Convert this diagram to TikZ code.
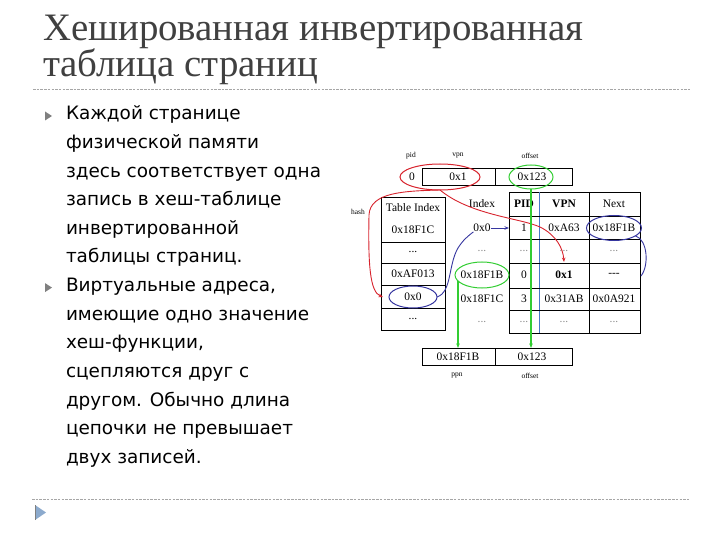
\documentclass[tikz,border=0pt]{standalone}
\usepackage{fontspec}
\setmainfont{Liberation Serif}
\newfontfamily\bodyfont{DejaVu Sans}
\newfontfamily\titlefont{Liberation Serif}
\usetikzlibrary{arrows.meta,shapes.geometric}
\definecolor{redc}{RGB}{215,35,45}
\definecolor{greenc}{RGB}{50,205,50}
\definecolor{bluec}{RGB}{55,55,160}
\definecolor{titlegray}{RGB}{64,64,64}
\definecolor{divblue}{RGB}{70,120,200}
\definecolor{bulgray}{RGB}{128,128,128}
\definecolor{bulblue}{RGB}{140,170,205}
\begin{document}
\begin{tikzpicture}[x=1bp,y=-1bp,
  every node/.style={inner sep=0pt, outer sep=0pt},
  tt/.style={font=\fontsize{11.5}{12}\selectfont},
  tgray/.style={tt, text=black!45},
  small/.style={font=\fontsize{7.5}{8}\selectfont},
  body/.style={anchor=base west, font=\bodyfont\fontsize{18.5}{20}\selectfont},
  ttl/.style={anchor=base west, font=\titlefont\fontsize{39}{41}\selectfont, text=titlegray},
  grid/.style={line width=0.8bp, draw=black},
  sep/.style={draw=gray!70, line width=0.8bp, dash pattern=on 2.5bp off 1.2bp},
  ell/.style={ellipse, draw, line width=1bp, inner sep=0pt},
  arr/.style={-{Stealth[length=4.5bp,width=3.5bp]}, line width=0.9bp},
]
\useasboundingbox (0,0) rectangle (720,540);

% title
\node[ttl] (t1) at (43,41) {Хешированная инвертированная};
\node[ttl] (t2) at (43,77) {таблица страниц};
\draw[sep] (33,89) -- (690,89);
\draw[sep] (32,499) -- (690,499);
\fill[bulblue] (35,505) -- (35,520) -- (46,512.5) -- cycle;
\draw[gray, line width=0.8bp] (35,505) -- (35,520);

% bullets
\fill[bulgray] (45,111.5) -- (45,120.5) -- (52,116) -- cycle;
\fill[bulgray] (45,283.1) -- (45,292.1) -- (52,287.6) -- cycle;

\node[body] (l1) at (66,120) {Каждой странице};
\node[body] (l2) at (66,148.6) {физической памяти};
\node[body] (l3) at (66,177.2) {здесь соответствует одна};
\node[body] (l4) at (66,205.8) {запись в хеш-таблице};
\node[body] (l5) at (66,234.4) {инвертированной};
\node[body] (l6) at (66,263) {таблицы страниц.};
\node[body] (l7) at (66,291.6) {Виртуальные адреса,};
\node[body] (l8) at (66,320.2) {имеющие одно значение};
\node[body] (l9) at (66,348.8) {хеш-функции,};
\node[body] (l10) at (66,377.4) {сцепляются друг с};
\node[body] (l11) at (66,406) {другом. Обычно длина};
\node[body] (l12) at (66,434.6) {цепочки не превышает};
\node[body] (l13) at (66,463.2) {двух записей.};

% top register
\draw[grid] (422,168) rectangle (572,185);
\draw[grid] (495,168) -- (495,185);
\node[tt] (pid0) at (412,177) {0};
\node[tt] (vpn1) at (458,177) {0x1};
\node[tt] (off1) at (532,177) {0x123};
\node[small] (lpid) at (411,156) {pid};
\node[small] (lvpn) at (458,156) {vpn};
\node[small] (loff1) at (530,156) {offset};

% left table
\draw[grid] (381,197) rectangle (445,330);
\foreach \yy in {242,263,285,308} \draw[grid] (381,\yy) -- (445,\yy);
\node[tt] (ti) at (413,208) {Table Index};
\node[tt] (ta) at (413,230) {0x18F1C};
\node[tt] (tb) at (413,252) {...};
\node[tt] (tc) at (413,274) {0xAF013};
\node[tt] (td) at (413,297) {0x0};
\node[tt] (te) at (413,319) {...};
\node[small] (lhash) at (358,212) {hash};

% index column
\node[tt] (ih) at (482,204) {Index};
\node[tt] (idx0) at (482,228) {0x0};
\node[tgray] (idxa) at (482,251) {...};
\node[tt] (idxb) at (482,275) {0x18F1B};
\node[tt] (idxc) at (482,299) {0x18F1C};
\node[tgray] (idxd) at (482,322) {...};

% right table
\draw[grid] (509,192) rectangle (640,333);
\draw[grid] (589,192) -- (589,333);
\draw[line width=0.8bp, divblue] (539,192) -- (539,333);
\foreach \yy in {216,239,263,288,310} \draw[grid] (509,\yy) -- (640,\yy);
\node[tt] (hpid) at (524,204) {\textbf{PID}};
\node[tt] (hvpn) at (564,204) {\textbf{VPN}};
\node[tt] (hnext) at (614,204) {Next};
\node[tt] (p1) at (524,228) {1};
\node[tt] (v1) at (564,228) {0xA63};
\node[tt] (n1) at (614,228) {0x18F1B};
\node[tgray] (p2) at (524,251) {...};
\node[tgray] (v2) at (564,251) {...};
\node[tgray] (n2) at (614,251) {...};
\node[tt] (p3) at (524,275) {0};
\node[tt] (v3) at (564,275) {\textbf{0x1}};
\node[tt] (n3) at (614,275) {-{}-{}-};
\node[tt] (p4) at (524,299) {3};
\node[tt] (v4) at (564,299) {0x31AB};
\node[tt] (n4) at (614,299) {0x0A921};
\node[tgray] (p5) at (524,322) {...};
\node[tgray] (v5) at (564,322) {...};
\node[tgray] (n5) at (614,322) {...};

% bottom register
\draw[grid] (422,348) rectangle (572,365);
\draw[grid] (495,348) -- (495,365);
\node[tt] (ppn) at (458,357) {0x18F1B};
\node[tt] (off2) at (532,357) {0x123};
\node[small] (lppn) at (457,376) {ppn};
\node[small] (loff2) at (530,376) {offset};

% ellipses
\node[ell, draw=redc, minimum width=80bp, minimum height=26bp] (rell) at (440,177) {};
\node[ell, draw=greenc, minimum width=44bp, minimum height=24bp] (gell) at (531,177) {};
\node[ell, draw=bluec, minimum width=48bp, minimum height=22bp] (bell1) at (413,297) {};
\node[ell, draw=greenc, minimum width=54bp, minimum height=26bp] (gell2) at (482,275) {};
\node[ell, draw=bluec, minimum width=55bp, minimum height=25bp] (bell2) at (614,228) {};

% coordinates
\coordinate (bbtop) at (0,348);
\coordinate (rtleft) at (509,0);
\coordinate (hashend) at (383,297);
\coordinate (vpnend) at (564,262);
\coordinate (g2s) at (458,281);
\coordinate (b2end) at (641,276);

% connectors
\draw[redc, arr] (rell.south) .. controls (405,191) and (370,192) .. (369,215)
   .. controls (368,265) and (370,292) .. (hashend);
\draw[redc, arr] (rell.south) .. controls (470,215) and (520,218) .. (540,227)
   .. controls (556,235) and (563,248) .. (vpnend);
\draw[greenc, arr, line width=1.3bp] (gell.south) -- (gell.south |- bbtop);
\draw[greenc, arr, line width=1.3bp] (g2s) -- (g2s |- bbtop);
\draw[bluec, line width=0.9bp] (bell1.east) .. controls (452,292) and (448,265) .. (458,248)
   .. controls (463,240) and (468,236) .. (idx0.south west);
\draw[bluec, arr] (idx0.east) -- (idx0.east -| rtleft);
\draw[bluec, line width=0.9bp] (bell2.-20) .. controls (648,240) and (649,266) .. (b2end);
\end{tikzpicture}
\end{document}
